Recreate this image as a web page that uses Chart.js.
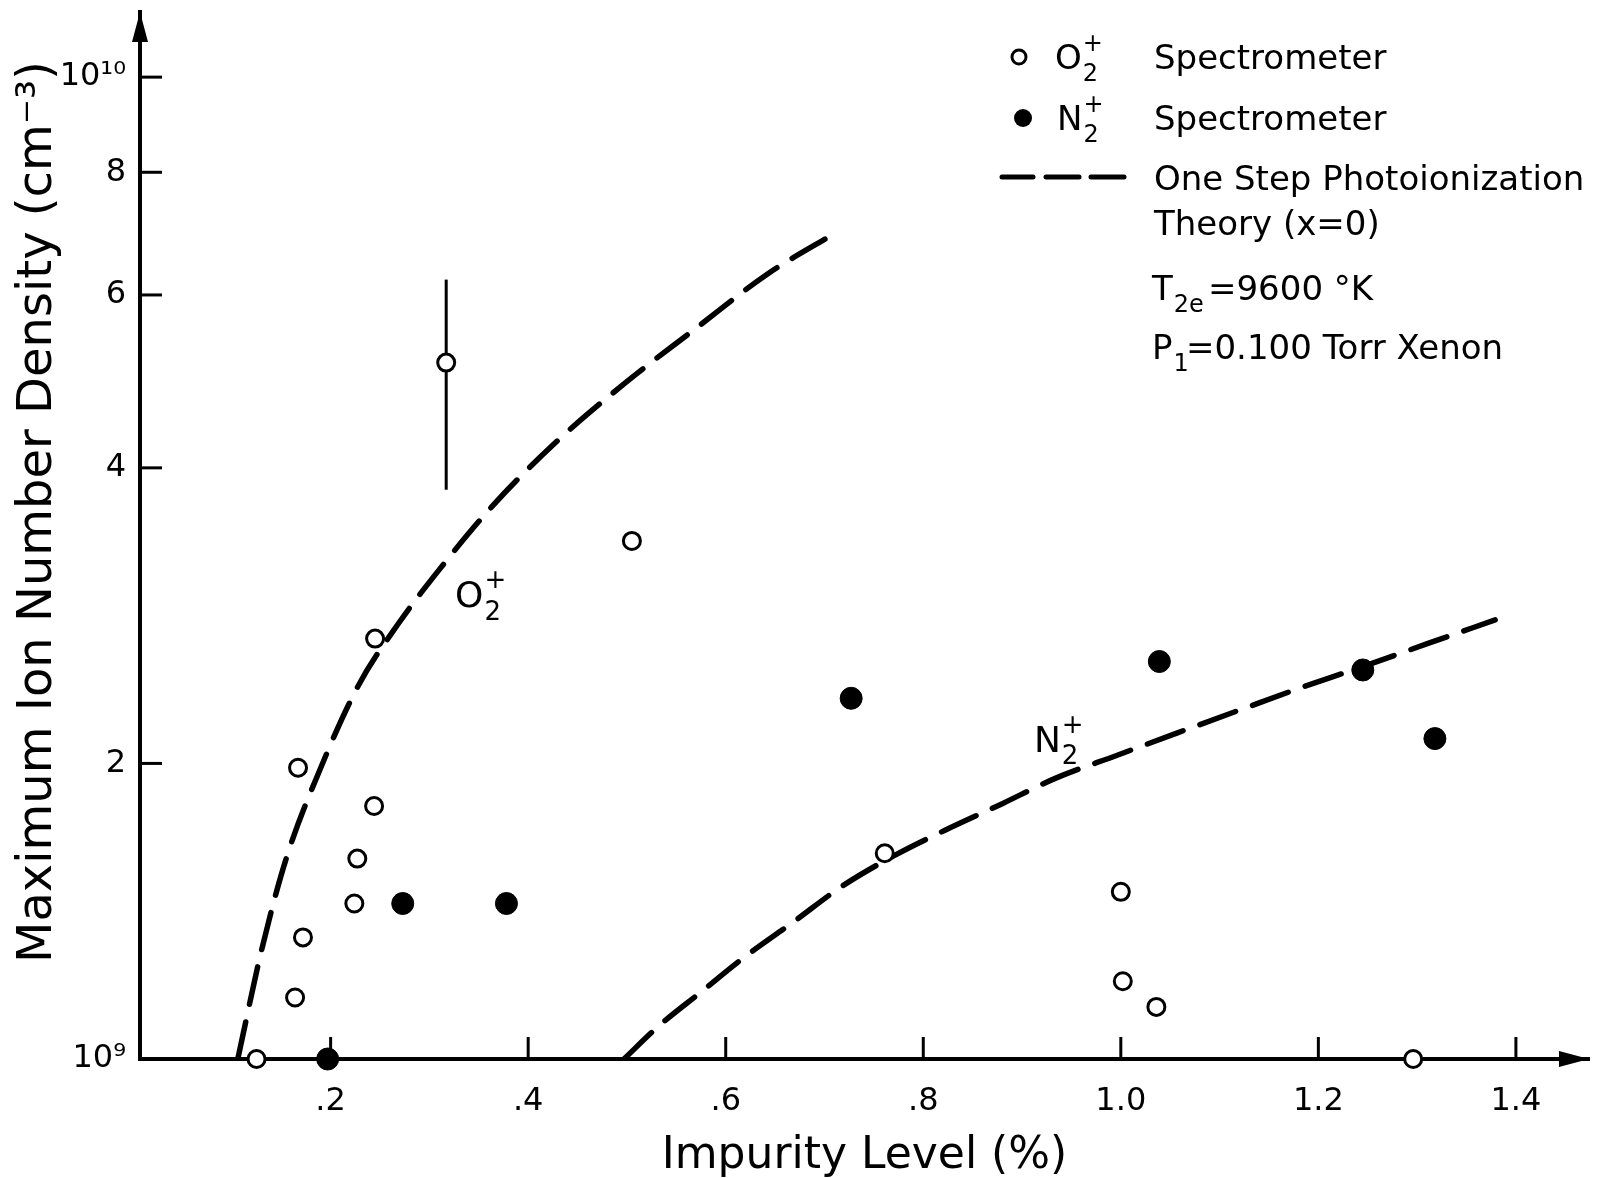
<!DOCTYPE html>
<html>
<head>
<meta charset="utf-8">
<script src="https://cdn.jsdelivr.net/npm/chart.js@4.4.1/dist/chart.umd.min.js"></script>
<style>
  body { margin: 0; background: #fff; }
  #wrap { width: 1605px; height: 1178px; }
</style>
</head>
<body>
<div id="wrap"><canvas id="chart" width="1605" height="1178"></canvas></div>
<script>
// measured O2+ ion density (units of 1e9 cm^-3) vs impurity level (%)
const o2X = [0.125, 0.164, 0.172, 0.167, 0.224, 0.227, 0.244, 0.245, 0.317, 0.505, 0.761, 1.000, 1.002, 1.036, 1.296];
const o2Y = [1.00, 1.155, 1.33, 1.98, 1.44, 1.60, 1.81, 2.68, 5.12, 3.37, 1.62, 1.48, 1.20, 1.13, 1.00];

// error bar on the O2+ point at 0.317
const errX = [0.317, 0.317];
const errY = [3.80, 6.22];

// measured N2+
const n2X = [0.197, 0.273, 0.378, 0.727, 1.039, 1.245, 1.318];
const n2Y = [1.00, 1.44, 1.44, 2.33, 2.54, 2.49, 2.12];

// one step photoionization theory curves
const o2TheoryX = [0.106, 0.130, 0.155, 0.190, 0.228, 0.269, 0.311, 0.363, 0.425, 0.497, 0.570, 0.642, 0.710];
const o2TheoryY = [1.00, 1.29, 1.60, 1.98, 2.40, 2.78, 3.16, 3.65, 4.22, 4.87, 5.55, 6.30, 6.93];
const n2TheoryX = [0.497, 0.532, 0.575, 0.619, 0.669, 0.718, 0.770, 0.822, 0.880, 0.933, 0.997, 1.058, 1.122, 1.183, 1.245, 1.311, 1.379];
const n2TheoryY = [1.00, 1.08, 1.17, 1.27, 1.38, 1.50, 1.61, 1.71, 1.82, 1.93, 2.04, 2.15, 2.27, 2.39, 2.51, 2.65, 2.80];

// axis ticks
const xTicks = [0.2, 0.4, 0.6, 0.8, 1.0, 1.2, 1.4];
const xTickLabels = [".2", ".4", ".6", ".8", "1.0", "1.2", "1.4"];
const yTicks = [1, 2, 4, 6, 8, 10];
const yTickLabels = ["10\u2079", "2", "4", "6", "8", "10\u00B9\u2070"];

const E9 = 1e9;
const FONT = '"DejaVu Sans", sans-serif';

const toPts = (xs, ys) => xs.map((x, i) => ({ x: x, y: ys[i] * E9 }));

// formula like O2+ : base letter, subscript and superscript stacked
function drawFormula(ctx, x, y, base, sub, sup, size) {
  ctx.textAlign = "left";
  ctx.textBaseline = "middle";
  ctx.font = size + "px " + FONT;
  ctx.fillText(base, x, y);
  const w = ctx.measureText(base).width;
  const small = Math.round(size * 0.72);
  ctx.font = small + "px " + FONT;
  if (sub) ctx.fillText(sub, x + w + 1, y + size * 0.42);
  if (sup) ctx.fillText(sup, x + w + 1, y - size * 0.46);
}

function line(ctx, x1, y1, x2, y2) {
  ctx.beginPath();
  ctx.moveTo(x1, y1);
  ctx.lineTo(x2, y2);
  ctx.stroke();
}

const decorPlugin = {
  id: "decor",
  afterDraw(chart) {
    const ctx = chart.ctx;
    const xs = chart.scales.x;
    const ys = chart.scales.y;
    const a = chart.chartArea;
    ctx.save();
    ctx.strokeStyle = "#000";
    ctx.fillStyle = "#000";
    ctx.lineCap = "butt";

    // inward tick marks
    ctx.lineWidth = 3;
    ys.ticks.forEach((t) => {
      if (t.value <= E9) return;
      const py = ys.getPixelForValue(t.value);
      line(ctx, a.left, py, a.left + 22, py);
    });
    xs.ticks.forEach((t) => {
      const px = xs.getPixelForValue(t.value);
      line(ctx, px, a.bottom, px, a.bottom - 22);
    });

    // arrow heads
    ctx.beginPath();
    ctx.moveTo(a.left, a.top);
    ctx.lineTo(a.left - 8, a.top + 30);
    ctx.lineTo(a.left + 8, a.top + 30);
    ctx.closePath();
    ctx.fill();
    ctx.beginPath();
    ctx.moveTo(a.right, a.bottom);
    ctx.lineTo(a.right - 30, a.bottom - 8);
    ctx.lineTo(a.right - 30, a.bottom + 8);
    ctx.closePath();
    ctx.fill();

    // y axis title
    ctx.save();
    ctx.translate(39, 512);
    ctx.rotate(-Math.PI / 2);
    ctx.font = "48px " + FONT;
    ctx.textAlign = "center";
    ctx.textBaseline = "middle";
    ctx.fillText("Maximum Ion Number Density (cm\u207B\u00B3)", 0, 0);
    ctx.restore();

    // curve labels
    drawFormula(ctx, xs.getPixelForValue(0.326), ys.getPixelForValue(2.95 * E9), "O", "2", "+", 36);
    drawFormula(ctx, xs.getPixelForValue(0.912), ys.getPixelForValue(2.10 * E9), "N", "2", "+", 36);

    // legend
    ctx.lineWidth = 3;
    ctx.beginPath();
    ctx.arc(1019, 57, 7, 0, Math.PI * 2);
    ctx.stroke();
    drawFormula(ctx, 1055, 60, "O", "2", "+", 34);
    ctx.beginPath();
    ctx.arc(1023, 118, 9, 0, Math.PI * 2);
    ctx.fill();
    drawFormula(ctx, 1057, 121, "N", "2", "+", 34);

    ctx.lineWidth = 5;
    ctx.lineCap = "round";
    line(ctx, 1002, 177, 1033, 177);
    line(ctx, 1046, 177, 1079, 177);
    line(ctx, 1091, 177, 1124, 177);

    ctx.font = "34px " + FONT;
    ctx.textAlign = "left";
    ctx.textBaseline = "middle";
    ctx.fillText("Spectrometer", 1154, 60);
    ctx.fillText("Spectrometer", 1154, 121);
    ctx.fillText("One Step Photoionization", 1154, 181);
    ctx.fillText("Theory (x=0)", 1154, 226);

    drawFormula(ctx, 1152, 291, "T", "2e", "", 34);
    ctx.font = "34px " + FONT;
    ctx.fillText("=9600 \u00B0K", 1208, 291);
    drawFormula(ctx, 1152, 350, "P", "1", "", 34);
    ctx.font = "34px " + FONT;
    ctx.fillText("=0.100 Torr Xenon", 1186, 350);

    ctx.restore();
  },
};

const ctx = document.getElementById("chart").getContext("2d");
new Chart(ctx, {
  type: "scatter",
  data: {
    datasets: [
      {
        label: "O2+ Spectrometer",
        data: toPts(o2X, o2Y),
        pointStyle: "circle",
        pointRadius: 8.5,
        pointBorderWidth: 3,
        pointBackgroundColor: "#fff",
        pointBorderColor: "#000",
        clip: false,
      },
      {
        label: "N2+ Spectrometer",
        data: toPts(n2X, n2Y),
        pointStyle: "circle",
        pointRadius: 11,
        pointBorderWidth: 1,
        pointBackgroundColor: "#000",
        pointBorderColor: "#000",
        clip: false,
      },
      {
        label: "error",
        type: "line",
        data: toPts(errX, errY),
        borderColor: "#000",
        borderWidth: 3,
        pointRadius: 0,
      },
      {
        label: "O2+ theory",
        type: "line",
        data: toPts(o2TheoryX, o2TheoryY),
        borderColor: "#000",
        borderWidth: 5.5,
        borderDash: [38, 18],
        borderCapStyle: "round",
        cubicInterpolationMode: "monotone",
        pointRadius: 0,
      },
      {
        label: "N2+ theory",
        type: "line",
        data: toPts(n2TheoryX, n2TheoryY),
        borderColor: "#000",
        borderWidth: 5.5,
        borderDash: [38, 18],
        borderCapStyle: "round",
        cubicInterpolationMode: "monotone",
        pointRadius: 0,
      },
    ],
  },
  options: {
    responsive: false,
    animation: false,
    layout: { padding: { top: 12, right: 16, left: 0, bottom: 0 } },
    plugins: {
      legend: { display: false },
      tooltip: { enabled: false },
    },
    scales: {
      x: {
        type: "linear",
        min: 0.007,
        max: 1.474,
        afterFit: (s) => { s.height = 119; s.paddingLeft = 0; s.paddingRight = 0; },
        afterBuildTicks: (s) => { s.ticks = xTicks.map((v) => ({ value: v })); },
        grid: { display: false },
        border: { display: true, color: "#000", width: 4 },
        ticks: {
          color: "#000",
          font: { family: FONT, size: 32 },
          padding: 15,
          maxRotation: 0,
          callback: (v, i) => xTickLabels[i],
        },
        title: {
          display: true,
          text: "Impurity Level (%)",
          color: "#000",
          font: { family: FONT, size: 44 },
          padding: { top: 0, bottom: -5 },
        },
      },
      y: {
        type: "logarithmic",
        min: 1e9,
        max: 1.165e10,
        afterFit: (s) => { s.width = 140; s.paddingTop = 0; s.paddingBottom = 0; },
        afterBuildTicks: (s) => { s.ticks = yTicks.map((v) => ({ value: v * E9 })); },
        grid: { display: false },
        border: { display: true, color: "#000", width: 4 },
        ticks: {
          color: "#000",
          font: { family: FONT, size: 32 },
          padding: 6,
          callback: (v, i) => yTickLabels[i],
        },
        title: { display: false },
      },
    },
  },
  plugins: [decorPlugin],
});
</script>
</body>
</html>
